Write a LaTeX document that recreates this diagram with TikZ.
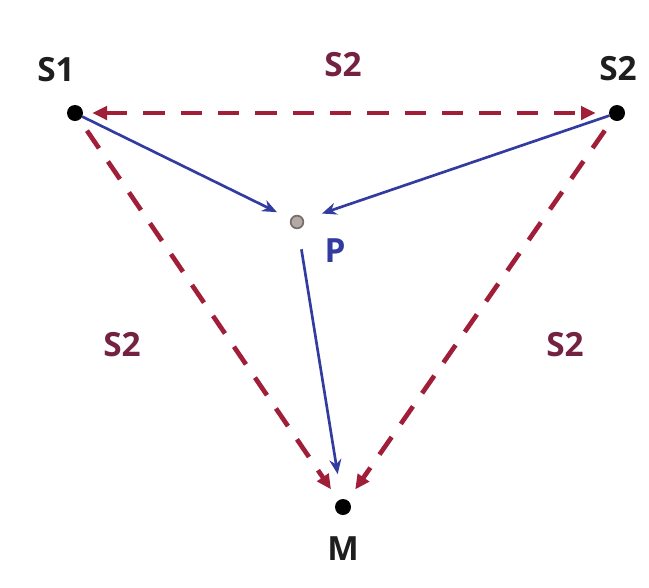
\documentclass[tikz,border=0pt]{standalone}
\usepackage{fontspec}
\setmainfont{Open Sans}
\usetikzlibrary{arrows.meta}
\definecolor{dred}{RGB}{160,30,55}
\definecolor{lblred}{RGB}{115,35,65}
\definecolor{dblue}{RGB}{50,60,160}
\definecolor{pfill}{RGB}{180,170,165}
\definecolor{pdraw}{RGB}{120,110,105}
\definecolor{txt}{RGB}{30,30,30}
\tikzset{
  pt/.style={circle,fill=black,inner sep=0pt,minimum size=12pt,outer sep=0pt},
  ppt/.style={circle,fill=pfill,draw=pdraw,line width=1.3pt,inner sep=0pt,minimum size=9.5pt,outer sep=0pt},
  lbl/.style={font=\fontsize{25}{25}\selectfont\bfseries,text=txt,inner sep=0pt},
  slbl/.style={font=\fontsize{25}{25}\selectfont\bfseries,text=lblred,inner sep=0pt},
  redline/.style={draw=dred,line width=3.5pt,dash pattern=on 16pt off 12pt,
     -{Triangle[length=11pt,width=10pt]}},
  blueline/.style={draw=dblue,line width=2pt,-{Stealth[length=11pt,width=9pt]}},
}
\begin{document}
\begin{tikzpicture}[x=0.75pt,y=-0.75pt]
\useasboundingbox (0,0) rectangle (649,587);
\node[pt] (S1) at (75,113) {};
\node[pt] (S2) at (617,113) {};
\node[ppt] (P) at (297,222) {};
\node[pt] (M) at (343,507) {};
\node[lbl] (l1) at (56,70) {S1};
\node[lbl] (l2) at (618,69) {S2};
\node[lbl,text=dblue] (lp) at (335,251) {P};
\node[lbl] (lm) at (343,549) {M};
\node[slbl] (t1) at (343,65) {S2};
\node[slbl] (t2) at (122,345) {S2};
\node[slbl] (t3) at (565,345) {S2};
% red dashed
\draw[redline,{Triangle[length=11pt,width=10pt]}-{Triangle[length=11pt,width=10pt]},shorten <=7pt,shorten >=10pt] (S1) -- (S2);
\draw[redline,shorten <=10pt,shorten >=10pt] (S1) -- (M);
\draw[redline,shorten <=10pt,shorten >=10pt] (S2) -- (M);
% blue
\draw[blueline,shorten >=12pt] (S1) -- (P);
\draw[blueline,shorten >=15pt] (S2) -- (P);
\draw[blueline,shorten <=16pt,shorten >=19pt] (P) -- (M);
\end{tikzpicture}
\end{document}
